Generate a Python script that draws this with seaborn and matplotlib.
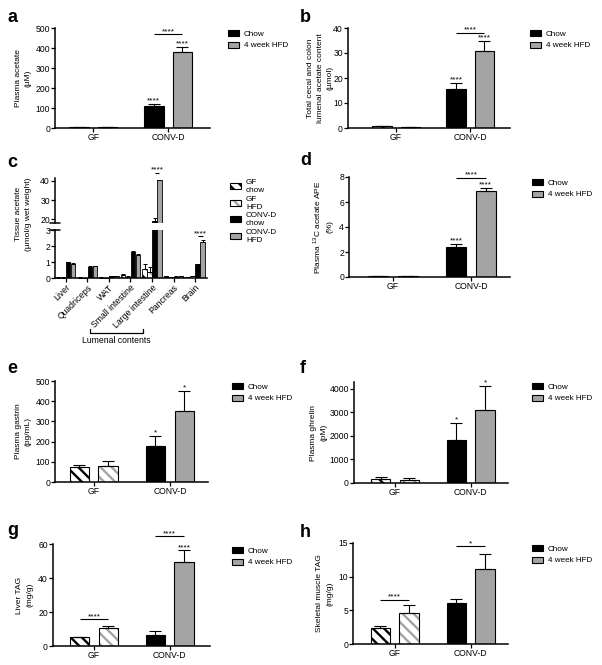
import numpy as np
import pandas as pd
import matplotlib
matplotlib.use("Agg")
import matplotlib.pyplot as plt
import matplotlib.colors as mcolors
import matplotlib.transforms as mtransforms
from matplotlib.patches import Patch
import seaborn as sns

sns.set_theme(style="ticks")
plt.rcParams["font.family"] = ["Liberation Sans", "DejaVu Sans"]
plt.rcParams["hatch.linewidth"] = 1.7
plt.rcParams["mathtext.fontset"] = "custom"
plt.rcParams["mathtext.rm"] = "Liberation Sans"
for key in ("text.color", "axes.labelcolor", "xtick.color", "ytick.color",
            "axes.edgecolor"):
    plt.rcParams[key] = "black"

W, H = 602, 665
BLACK = "black"
GREY = "#a4a4a4"
HATCH = "\\\\\\"
FS_TICK = 6.2
FS_LAB = 6.0
FS_LEG = 5.9

# ── data (order: GF chow, GF HFD, CONV-D chow, CONV-D HFD) ─────────────────────
groups = ["GF", "CONV-D"]
diets = ["Chow", "4 week HFD"]

acetate_mean = [5, 5, 111, 380]
acetate_sem = [1, 1, 8, 27]

lumenal_mean = [0.7, 0.5, 15.8, 31.0]
lumenal_sem = [0.15, 0.1, 2.2, 3.8]

ape_mean = [0.10, 0.10, 2.43, 6.85]
ape_sem = [0.02, 0.02, 0.19, 0.25]

gastrin_mean = [72, 80, 180, 352]
gastrin_sem = [10, 25, 48, 99]

ghrelin_mean = [185, 144, 1833, 3100]
ghrelin_sem = [70, 84, 702, 1015]

liver_tag_mean = [5.1, 10.4, 6.5, 49.2]
liver_tag_sem = [0.3, 1.2, 2.5, 7.0]

muscle_tag_mean = [2.33, 4.65, 6.14, 11.1]
muscle_tag_sem = [0.34, 1.15, 0.5, 2.3]

# panel c
tissues = ["Liver", "Quadriceps", "WAT", "Small intestine", "Large intestine",
           "Pancreas", "Brain"]
c_groups = ["GF\nchow", "GF\nHFD", "CONV-D\nchow", "CONV-D\nHFD"]
c_gf_chow = [0.03, 0.03, 0.03, 0.16, 0.55, 0.10, 0.07]
c_gf_chow_sem = [0.01, 0.01, 0.01, 0.09, 0.30, 0.03, 0.02]
c_gf_hfd = [0.03, 0.02, 0.02, 0.08, 0.40, 0.05, 0.11]
c_gf_hfd_sem = [0.01, 0.01, 0.01, 0.02, 0.26, 0.02, 0.03]
c_cv_chow = [0.97, 0.70, 0.12, 1.60, 19.3, 0.09, 0.85]
c_cv_chow_sem = [0.05, 0.04, 0.02, 0.10, 1.2, 0.02, 0.05]
c_cv_hfd = [0.88, 0.74, 0.12, 1.43, 40.2, 0.10, 2.27]
c_cv_hfd_sem = [0.04, 0.04, 0.02, 0.10, 0.5, 0.02, 0.13]

fig = plt.figure(figsize=(W / 100, H / 100), dpi=100)


# ── helpers ────────────────────────────────────────────────────────────────────

def rect(l, t, r, b):
    return [l / W, 1 - b / H, (r - l) / W, (b - t) / H]


def style_axes(ax):
    sns.despine(ax=ax)
    for s in ("left", "bottom"):
        ax.spines[s].set_linewidth(1.1)
        ax.spines[s].set_color("black")
    ax.tick_params(direction="out", length=2.6, width=0.9, labelsize=FS_TICK,
                   pad=1.0, colors="black")
    ax.set_xlabel("")


def set_hatch(p, colour):
    p.set_facecolor("white")
    p.set_edgecolor("black")
    p.set_hatch(HATCH)
    if hasattr(p, "set_hatchcolor"):
        p.set_hatchcolor(colour)
    else:
        p._hatch_color = mcolors.to_rgba(colour)


def stars(ax, x, y, text):
    ax.annotate(text, (x, y), xytext=(0, 1.0), textcoords="offset points",
                ha="center", va="baseline", fontsize=FS_LAB,
                annotation_clip=False)


def bracket(ax, x1, x2, y, text):
    ax.plot([x1, x2], [y, y], color="black", lw=0.8, clip_on=False,
            solid_capstyle="butt")
    stars(ax, (x1 + x2) / 2, y, text)


def legend(handles, labels, x, y, spacing=0.45):
    fig.legend(handles, labels, loc="upper left",
               bbox_to_anchor=(x / W, 1 - y / H), frameon=False,
               fontsize=FS_LEG, handlelength=1.35, handleheight=0.75,
               handletextpad=0.6, labelspacing=spacing, borderpad=0,
               borderaxespad=0)


def diet_legend(x, y):
    handles = [Patch(facecolor=BLACK, edgecolor="black", lw=0.8),
               Patch(facecolor=GREY, edgecolor="black", lw=0.8)]
    legend(handles, diets, x, y)


def two_group(box, means, sems, ylim, yticks, ylabel, label_px, xlim):
    ax = fig.add_axes(rect(*box))
    df = pd.DataFrame({"group": np.repeat(groups, 2), "diet": diets * 2,
                       "value": means, "sem": sems})
    sns.barplot(data=df, x="group", y="value", hue="diet", order=groups,
                hue_order=diets, palette=[BLACK, GREY], saturation=1,
                width=0.76, gap=0.32, errorbar=None, edgecolor="black",
                linewidth=0.8, legend=False, ax=ax)
    centres = {}
    for diet, cont, colour in zip(diets, ax.containers, [BLACK, GREY]):
        for grp, p in zip(groups, cont.patches):
            centres[grp, diet] = p.get_x() + p.get_width() / 2
            if grp == "GF":
                set_hatch(p, colour)
    df["x"] = [centres[g, d] for g, d in zip(df["group"], df["diet"])]
    ax.errorbar(df["x"], df["value"], yerr=[np.zeros(len(df)), df["sem"]],
                fmt="none", ecolor="black", elinewidth=0.8, capsize=4.3,
                capthick=0.8, zorder=3, clip_on=False)
    ax.set_ylim(*ylim)
    ax.set_yticks(yticks)
    ax.set_xlim(*xlim)
    style_axes(ax)
    ax.set_ylabel(ylabel, fontsize=FS_LAB, linespacing=1.55)
    ax.yaxis.set_label_coords((label_px - box[0]) / (box[2] - box[0]), 0.5)
    df["top"] = df["value"] + df["sem"]
    return ax, df.set_index(["group", "diet"])


def letter(x, y, s):
    fig.text(x / W, 1 - y / H, s, fontsize=13, fontweight="bold",
             va="baseline", ha="left", color="black")


# ── a ──────────────────────────────────────────────────────────────────────────
ax, d = two_group((55, 28, 210, 128), acetate_mean, acetate_sem, (0, 500),
                  range(0, 501, 100), "Plasma acetate\n(µM)", 32, (-0.51, 1.56))
stars(ax, d.loc[("CONV-D", "Chow"), "x"], d.loc[("CONV-D", "Chow"), "top"], "****")
stars(ax, d.loc[("CONV-D", "4 week HFD"), "x"], d.loc[("CONV-D", "4 week HFD"), "top"], "****")
bracket(ax, d.loc[("CONV-D", "Chow"), "x"], d.loc[("CONV-D", "4 week HFD"), "x"], 468, "****")
diet_legend(228, 30)
letter(7, 22, "a")

# ── b ──────────────────────────────────────────────────────────────────────────
ax, d = two_group((348, 28, 510, 128), lumenal_mean, lumenal_sem, (0, 40),
                  range(0, 41, 10),
                  "Total cecal and colon\nlumenal acetate content\n(µmol)",
                  334, (-0.65, 1.54))
stars(ax, d.loc[("CONV-D", "Chow"), "x"], d.loc[("CONV-D", "Chow"), "top"], "****")
stars(ax, d.loc[("CONV-D", "4 week HFD"), "x"], d.loc[("CONV-D", "4 week HFD"), "top"], "****")
bracket(ax, d.loc[("CONV-D", "Chow"), "x"], d.loc[("CONV-D", "4 week HFD"), "x"], 38, "****")
diet_legend(530, 30)
letter(300, 22, "b")

# ── c ──────────────────────────────────────────────────────────────────────────
cdf = pd.DataFrame({
    "tissue": tissues * 4,
    "group": np.repeat(c_groups, len(tissues)),
    "value": c_gf_chow + c_gf_hfd + c_cv_chow + c_cv_hfd,
    "sem": c_gf_chow_sem + c_gf_hfd_sem + c_cv_chow_sem + c_cv_hfd_sem,
})
c_colours = [BLACK, GREY, BLACK, GREY]
c_box_top = (55, 178, 207, 223)
c_box_bot = (55, 230, 207, 278)
ax_top = fig.add_axes(rect(*c_box_top))
ax_bot = fig.add_axes(rect(*c_box_bot))
c_centres = {}
for axc in (ax_top, ax_bot):
    sns.barplot(data=cdf, x="tissue", y="value", hue="group", order=tissues,
                hue_order=c_groups, palette=c_colours, saturation=1, width=0.92,
                gap=0.1, errorbar=None, edgecolor="black", linewidth=0.6,
                legend=False, ax=axc)
    for i, (grp, cont) in enumerate(zip(c_groups, axc.containers)):
        for t, p in zip(tissues, cont.patches):
            c_centres[t, grp] = p.get_x() + p.get_width() / 2
            if i < 2:
                set_hatch(p, c_colours[i])
    xs = [c_centres[t, g] for t, g in zip(cdf["tissue"], cdf["group"])]
    axc.errorbar(xs, cdf["value"], yerr=[np.zeros(len(cdf)), cdf["sem"]],
                 fmt="none", ecolor="black", elinewidth=0.7, capsize=1.5,
                 capthick=0.7, zorder=3)
    axc.set_xlim(-0.5, 6.55)
    style_axes(axc)
    axc.set_ylabel("")

ax_top.set_ylim(18, 41.5)
ax_top.set_yticks([20, 30, 40])
ax_top.spines["bottom"].set_visible(False)
ax_top.tick_params(axis="x", bottom=False, labelbottom=False)
ax_bot.set_ylim(0, 3)
ax_bot.set_yticks([0, 1, 2, 3])
ax_bot.set_xticks(range(len(tissues)))
ax_bot.set_xticklabels(tissues, rotation=45, ha="right", rotation_mode="anchor",
                       fontsize=FS_TICK)
for axc, yb in ((ax_top, 0), (ax_bot, 1)):
    axc.plot([-0.03, 0.03], [yb, yb], transform=axc.transAxes, color="black",
             lw=1.1, clip_on=False)

cv_chow, cv_hfd = c_groups[2], c_groups[3]
bracket(ax_top, c_centres["Large intestine", cv_chow],
        c_centres["Large intestine", cv_hfd], 44, "****")
bracket(ax_bot, c_centres["Brain", cv_chow], c_centres["Brain", cv_hfd],
        2.6, "****")

# lumenal contents bracket under the intestine labels
trans = mtransforms.blended_transform_factory(ax_bot.transData, ax_bot.transAxes)
ax_bot.plot([1.12, 1.12, 3.58, 3.58], [-1.06, -1.145, -1.145, -1.06],
            transform=trans, color="black", lw=0.9, clip_on=False)
ax_bot.text(2.35, -1.2, "Lumenal contents", transform=trans, ha="center",
            va="top", fontsize=FS_TICK)

fig.text(32 / W, 1 - 214 / H, "Tissue acetate\n(µmol/g wet weight)",
         rotation=90, ha="right", va="center", multialignment="center",
         fontsize=FS_LAB, linespacing=1.55)

c_handles = []
for i, col in enumerate(c_colours):
    if i < 2:
        h = Patch(facecolor="white", edgecolor="black", lw=0.8, hatch=HATCH)
        set_hatch(h, col)
    else:
        h = Patch(facecolor=col, edgecolor="black", lw=0.8)
    c_handles.append(h)
legend(c_handles, c_groups, 230, 179, spacing=0.2)
letter(7, 167, "c")

# ── d ──────────────────────────────────────────────────────────────────────────
ax, d = two_group((349, 177, 510, 277), ape_mean, ape_sem, (0, 8),
                  range(0, 9, 2), "Plasma $^{13}$C acetate APE\n(%)", 333,
                  (-0.56, 1.5))
stars(ax, d.loc[("CONV-D", "Chow"), "x"], d.loc[("CONV-D", "Chow"), "top"], "****")
stars(ax, d.loc[("CONV-D", "4 week HFD"), "x"], d.loc[("CONV-D", "4 week HFD"), "top"], "****")
bracket(ax, d.loc[("CONV-D", "Chow"), "x"], d.loc[("CONV-D", "4 week HFD"), "x"], 7.9, "****")
diet_legend(532, 179)
letter(300, 165, "d")

# ── e ──────────────────────────────────────────────────────────────────────────
ax, d = two_group((55, 381, 208, 482), gastrin_mean, gastrin_sem, (0, 500),
                  range(0, 501, 100), "Plasma gastrin\n(pg/mL)", 32, (-0.51, 1.5))
stars(ax, d.loc[("CONV-D", "Chow"), "x"], d.loc[("CONV-D", "Chow"), "top"], "*")
stars(ax, d.loc[("CONV-D", "4 week HFD"), "x"], d.loc[("CONV-D", "4 week HFD"), "top"], "*")
diet_legend(232, 383)
letter(7, 373, "e")

# ── f ──────────────────────────────────────────────────────────────────────────
ax, d = two_group((354, 382, 508, 483), ghrelin_mean, ghrelin_sem, (0, 4280),
                  range(0, 4001, 1000), "Plasma ghrelin\n(pM)", 327, (-0.54, 1.49))
stars(ax, d.loc[("CONV-D", "Chow"), "x"], d.loc[("CONV-D", "Chow"), "top"], "*")
stars(ax, d.loc[("CONV-D", "4 week HFD"), "x"], d.loc[("CONV-D", "4 week HFD"), "top"], "*")
diet_legend(532, 383)
letter(300, 373, "f")

# ── g ──────────────────────────────────────────────────────────────────────────
ax, d = two_group((53, 544, 210, 646), liver_tag_mean, liver_tag_sem, (0, 60),
                  range(0, 61, 20), "Liver TAG\n(mg/g)", 33, (-0.54, 1.53))
bracket(ax, d.loc[("GF", "Chow"), "x"], d.loc[("GF", "4 week HFD"), "x"], 15.7, "****")
stars(ax, d.loc[("CONV-D", "4 week HFD"), "x"], d.loc[("CONV-D", "4 week HFD"), "top"], "****")
bracket(ax, d.loc[("CONV-D", "Chow"), "x"], d.loc[("CONV-D", "4 week HFD"), "x"], 64.5, "****")
diet_legend(232, 547)
letter(7, 535, "g")

# ── h ──────────────────────────────────────────────────────────────────────────
ax, d = two_group((353, 543, 508, 644), muscle_tag_mean, muscle_tag_sem, (0, 15),
                  range(0, 16, 5), "Skeletal muscle TAG\n(mg/g)", 333, (-0.55, 1.49))
bracket(ax, d.loc[("GF", "Chow"), "x"], d.loc[("GF", "4 week HFD"), "x"], 6.5, "****")
bracket(ax, d.loc[("CONV-D", "Chow"), "x"], d.loc[("CONV-D", "4 week HFD"), "x"], 14.5, "*")
diet_legend(532, 545)
letter(300, 537, "h")

fig.savefig("out.png", dpi=100)
